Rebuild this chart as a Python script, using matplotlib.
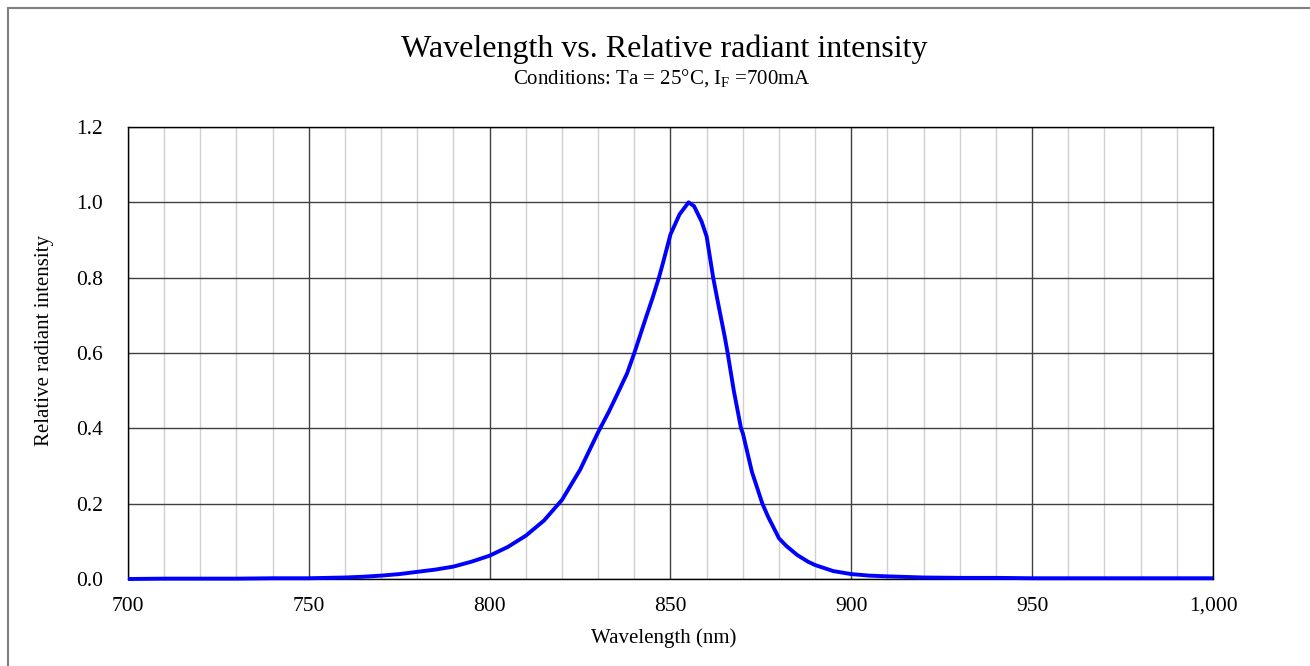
import matplotlib
matplotlib.use("Agg")
import matplotlib.pyplot as plt
from matplotlib.ticker import MultipleLocator, FuncFormatter
from matplotlib.patches import Rectangle

plt.rcParams['font.family'] = ['Liberation Serif', 'DejaVu Serif']
plt.rcParams['mathtext.fontset'] = 'custom'
plt.rcParams['mathtext.rm'] = 'Liberation Serif'

title = "Wavelength vs. Relative radiant intensity"
subtitle = r"Conditions: Ta = 25°C, I$_\mathregular{F}$ =700mA"
xlabel = "Wavelength (nm)"
ylabel = "Relative radiant intensity"

wavelength = [700, 710, 720, 730, 740, 750, 755, 760, 765, 770, 775, 780, 785,
              790, 795, 800, 805, 810, 815, 820, 825, 828, 830, 833, 835, 838,
              840, 843, 845, 846.8, 848, 850, 852.5, 855, 856.5, 858.6, 860,
              861.8, 863, 865, 865.8, 867.5, 869.5, 870, 872.5, 875.4, 877,
              880, 882, 885, 888, 890, 895, 900, 905, 910, 920, 930, 940, 950,
              960, 970, 980, 990, 1000]
intensity = [0.000, 0.001, 0.001, 0.001, 0.002, 0.002, 0.003, 0.004, 0.006,
             0.009, 0.013, 0.019, 0.025, 0.033, 0.046, 0.062, 0.085, 0.115,
             0.155, 0.210, 0.290, 0.350, 0.390, 0.445, 0.485, 0.546, 0.600,
             0.688, 0.745, 0.800, 0.842, 0.915, 0.968, 1.000, 0.990, 0.949,
             0.909, 0.800, 0.740, 0.643, 0.600, 0.500, 0.400, 0.387, 0.285,
             0.200, 0.165, 0.108, 0.088, 0.064, 0.046, 0.037, 0.021, 0.013,
             0.009, 0.007, 0.004, 0.003, 0.003, 0.002, 0.002, 0.002, 0.002,
             0.002, 0.002]

fig = plt.figure(figsize=(13.10, 6.66), dpi=100)
ax = fig.add_axes([128/1310, 1-579/666, (1213-128)/1310, (579-127)/666])

ax.plot(wavelength, intensity, color='#0000ff', lw=2.8, solid_joinstyle='round',
        solid_capstyle='butt', zorder=5, clip_on=False)

ax.set_xlim(700, 1000)
ax.set_ylim(0, 1.2)
ax.xaxis.set_major_locator(MultipleLocator(50))
ax.xaxis.set_minor_locator(MultipleLocator(10))
ax.yaxis.set_major_locator(MultipleLocator(0.2))
ax.xaxis.set_major_formatter(FuncFormatter(lambda v, p: f"{int(round(v)):,}"))
ax.yaxis.set_major_formatter(FuncFormatter(lambda v, p: f"{v:.1f}"))
ax.grid(which='minor', axis='x', color='#d0d0d0', lw=1.0)
ax.grid(which='major', axis='both', color='#404040', lw=1.0)
ax.set_axisbelow(True)
ax.tick_params(which='both', length=0, labelsize=15.5, colors='black')
ax.tick_params(axis='x', pad=23)
ax.tick_params(axis='y', pad=18)
for lab in ax.get_xticklabels():
    lab.set_verticalalignment('baseline')
for s in ax.spines.values():
    s.set_color('black')
    s.set_linewidth(1.0)

fig.text(664/1310, 1-638/666, xlabel, ha='center', va='center', fontsize=15)
fig.text(45/1310, 1-340/666, ylabel, ha='center', va='center', rotation=90, fontsize=15)

fig.text(664/1310, 1-57/666, title, ha='center', va='baseline', fontsize=23)
fig.text(662/1310, 1-84/666, subtitle, ha='center', va='baseline', fontsize=15)

fig.patches.append(Rectangle((7.5/1310, -0.1), 1.2, 1 - 7.5/666 + 0.1,
                             transform=fig.transFigure, fill=False,
                             edgecolor='#7f7f7f', lw=1.5, clip_on=False))

fig.savefig('out.png', dpi=100)
